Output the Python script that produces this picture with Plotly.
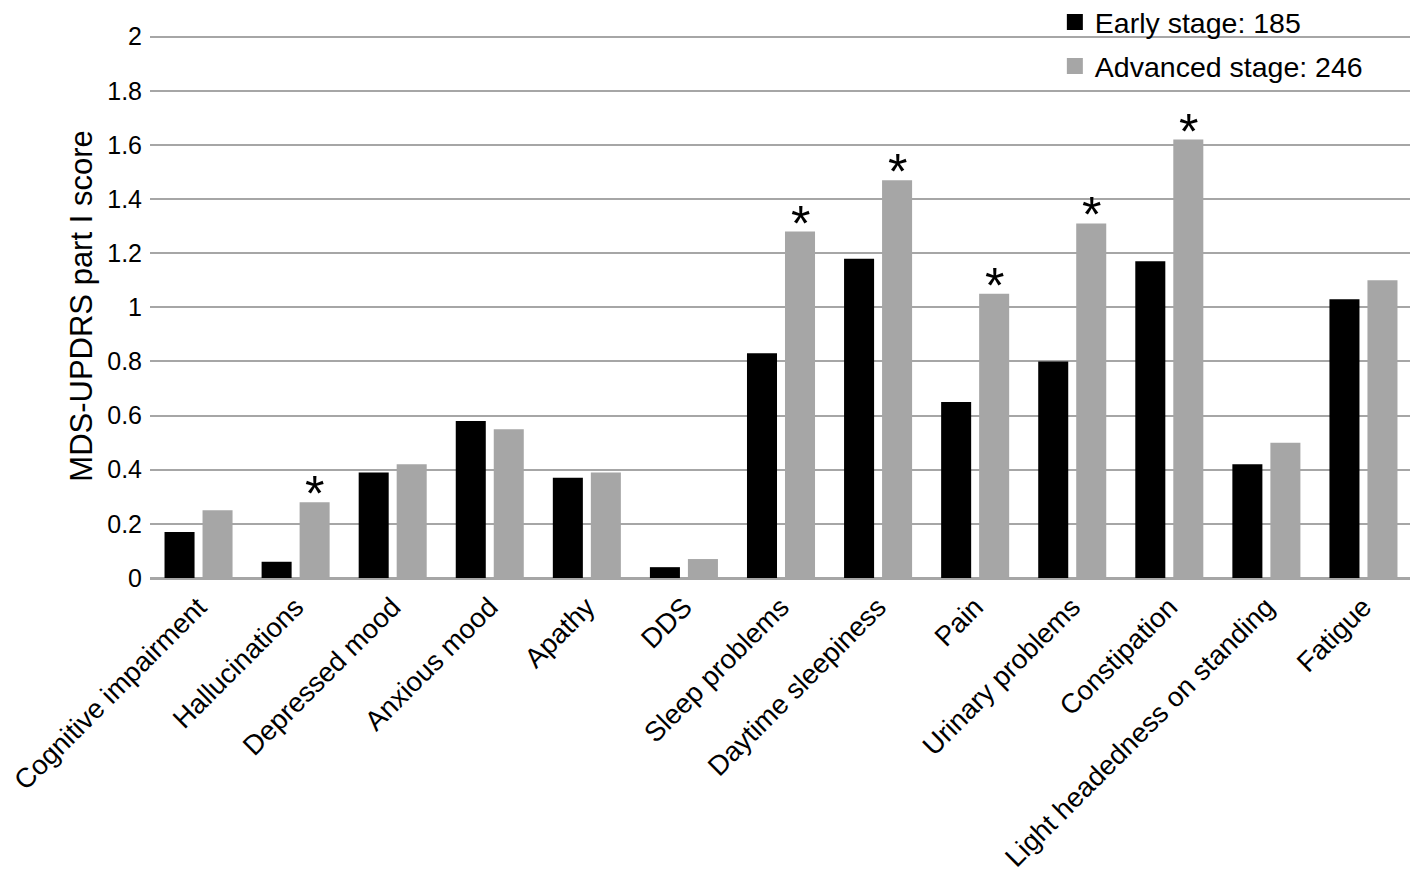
import plotly.graph_objects as go

# MDS-UPDRS part I item scores, early vs advanced PD
categories = ["Cognitive impairment", "Hallucinations", "Depressed mood", "Anxious mood",
              "Apathy", "DDS", "Sleep problems", "Daytime sleepiness", "Pain",
              "Urinary problems", "Constipation", "Light headedness on standing", "Fatigue"]
early = [0.17, 0.06, 0.39, 0.58, 0.37, 0.04, 0.83, 1.18, 0.65, 0.80, 1.17, 0.42, 1.03]
advanced = [0.25, 0.28, 0.42, 0.55, 0.39, 0.07, 1.28, 1.47, 1.05, 1.31, 1.62, 0.50, 1.10]
significant = [False, True, False, False, False, False, True, True, True, True, True, False, False]
series_names = ["Early stage: 185", "Advanced stage: 246"]
series_colors = ["#000000", "#a6a6a6"]

FONT = "Liberation Sans, Arial, sans-serif"

fig = go.Figure()
for name, vals, col in zip(series_names, [early, advanced], series_colors):
    fig.add_trace(go.Bar(x=categories, y=vals, name=name, showlegend=False,
                         marker=dict(color=col, line=dict(width=0))))

# legend entries with bigger square swatches
for i, (name, col) in enumerate(zip(series_names, series_colors)):
    fig.add_trace(go.Scatter(x=[None], y=[None], mode="markers", name=name, legendgroup=str(i),
                             marker=dict(symbol="square", size=16, color=col)))

# asterisks above the advanced-stage bar where the difference is significant
for cat, val, sig in zip(categories, advanced, significant):
    if sig:
        fig.add_annotation(x=cat, y=val, text="*", showarrow=False, xshift=19,
                           yanchor="bottom", yshift=-22,
                           font=dict(size=50, color="black", family=FONT))

# page body has an 8px margin, so the figure is a bit smaller than the window
fig.update_layout(
    width=1410, height=882,
    margin=dict(l=142, r=6, t=26, b=312, autoexpand=False),
    plot_bgcolor="white", paper_bgcolor="white",
    barmode="group", bargap=0.217, bargroupgap=0.21,
    font=dict(family=FONT, color="black"),
    legend=dict(x=0.717, y=1.068, xanchor="left", yanchor="top", itemwidth=30,
                bgcolor="rgba(0,0,0,0)", font=dict(size=28.5), tracegroupgap=4),
    showlegend=True,
)
fig.update_xaxes(tickangle=-45, tickfont=dict(size=27.5), showline=True, linecolor="#a6a6a6",
                 linewidth=2, ticks="", showgrid=False, automargin=False)
fig.update_yaxes(range=[0, 2.01], tickvals=[0, 0.2, 0.4, 0.6, 0.8, 1, 1.2, 1.4, 1.6, 1.8, 2],
                 ticktext=["0", "0.2", "0.4", "0.6", "0.8", "1", "1.2", "1.4", "1.6", "1.8", "2"],
                 tickfont=dict(size=25), showgrid=True, automargin=False, ticklabelstandoff=7,
                 gridcolor="#a6a6a6", gridwidth=2, zeroline=True, zerolinecolor="#a6a6a6",
                 zerolinewidth=2, showline=False,
                 title=dict(text="MDS-UPDRS part I score", font=dict(size=31), standoff=5))

fig.write_html("out.html")
